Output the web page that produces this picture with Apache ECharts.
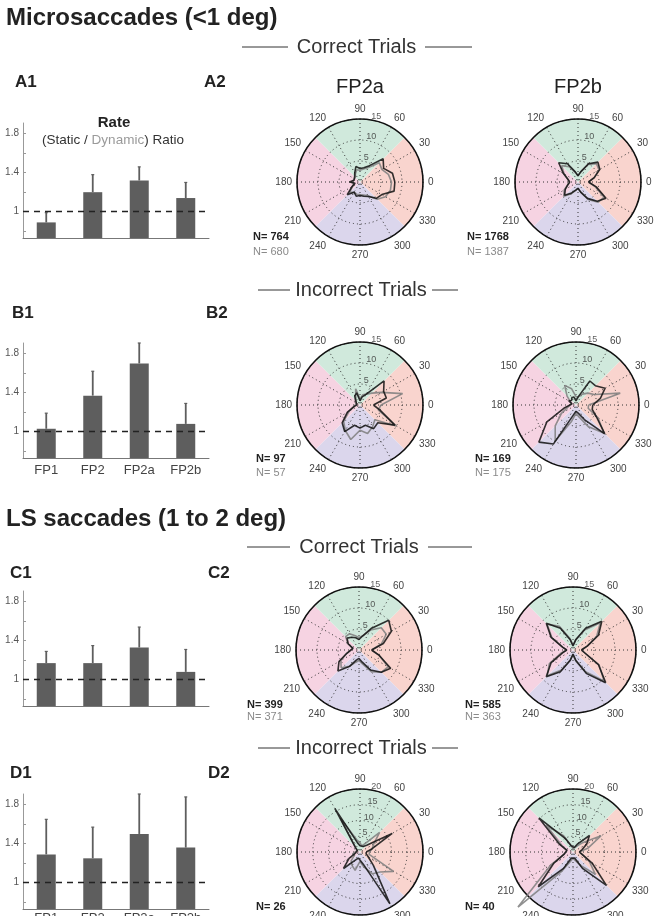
<!DOCTYPE html>
<html lang="en">
<head>
<meta charset="UTF-8">
<title>Microsaccades</title>
<style>
  html, body { margin: 0; padding: 0; background: #fff; }
  #main { width: 658px; height: 916px; }
</style>
</head>
<body>
<div id="main"></div>
<script src="https://cdn.jsdelivr.net/npm/echarts@6/dist/echarts.min.js"></script>
<script>
// bar panels: (static / dynamic) rate ratio, bar top and error bar top
var conditions = ['FP1', 'FP2', 'FP2a', 'FP2b'];
var rateA = [0.89, 1.20, 1.32, 1.14];
var errA  = [0.99, 1.38, 1.46, 1.30];
var rateB = [1.03, 1.37, 1.70, 1.08];
var errB  = [1.19, 1.62, 1.91, 1.29];
var rateC = [1.17, 1.17, 1.33, 1.08];
var errC  = [1.29, 1.35, 1.54, 1.31];
var rateD = [1.29, 1.25, 1.50, 1.36];
var errD  = [1.65, 1.57, 1.91, 1.88];
var yTicks = [0.8, 1, 1.2, 1.4, 1.6, 1.8];
var yLabels = [1, 1.4, 1.8];

// polar panels: saccade counts per direction (deg)
var dirs = [0, 15, 30, 45, 60, 75, 90, 105, 120, 135, 150, 165, 180, 195, 210, 225, 240, 255, 270, 285, 300, 315, 330, 345];
var radialTicks15 = [5, 10, 15];
var radialTicks20 = [5, 10, 15, 20];

var a2aStatic  = [8.3, 8.0, 6.5, 7.8, 4.5, 3.5, 3.2, 3.8, 2.5, 1.8, 2.0, 1.5, 2.5, 1.2, 2.2, 4.3, 2.8, 3.5, 3.2, 3.5, 4.0, 5.5, 6.0, 8.4];
var a2aDynamic = [7.5, 7.0, 6.0, 6.5, 4.0, 3.2, 2.8, 3.0, 2.2, 1.6, 1.8, 1.5, 2.0, 1.5, 2.0, 3.5, 2.8, 3.0, 3.0, 3.2, 3.8, 5.8, 7.0, 7.5];
var a2bStatic  = [2.5, 4.0, 6.0, 6.7, 5.0, 2.5, 1.5, 2.5, 5.0, 6.5, 4.0, 2.5, 2.0, 2.5, 3.5, 4.5, 3.0, 2.0, 1.5, 2.5, 4.5, 6.5, 7.7, 4.5];
var a2bDynamic = [2.5, 4.0, 5.8, 6.2, 4.8, 2.5, 1.5, 2.3, 4.2, 5.5, 3.8, 2.5, 2.0, 2.5, 3.8, 4.8, 3.2, 2.0, 1.5, 2.5, 4.8, 6.8, 7.2, 4.2];
var b2aStatic  = [3.2, 6.5, 6.5, 8.1, 3.0, 2.0, 1.0, 3.0, 2.5, 1.5, 1.0, 0.8, 0.8, 1.5, 3.5, 6.0, 7.3, 5.0, 5.5, 5.0, 6.5, 6.0, 9.6, 5.0];
var b2aDynamic = [5.0, 10.5, 6.0, 4.0, 3.0, 2.5, 1.5, 4.0, 2.0, 1.2, 1.0, 1.0, 1.0, 1.5, 3.0, 5.5, 7.0, 8.5, 6.0, 7.0, 6.0, 5.0, 10.0, 4.5];
var b2bStatic  = [4.0, 6.0, 8.0, 6.5, 6.6, 2.0, 1.0, 2.0, 2.0, 1.5, 2.0, 1.0, 1.0, 3.0, 8.0, 12.5, 10.7, 2.5, 1.5, 2.0, 4.0, 9.7, 5.6, 4.0];
var b2bDynamic = [3.0, 10.9, 5.0, 4.0, 3.0, 2.0, 2.0, 4.0, 5.4, 3.0, 1.5, 1.0, 1.0, 2.0, 4.0, 7.0, 9.9, 4.0, 2.0, 3.0, 6.0, 9.5, 6.0, 3.0];
var c2aStatic  = [3.0, 6.0, 8.9, 10.0, 6.0, 3.5, 2.5, 3.0, 3.5, 4.0, 3.0, 1.5, 1.5, 3.0, 5.5, 7.1, 4.5, 2.5, 2.0, 3.0, 5.5, 7.5, 8.7, 5.0];
var c2aDynamic = [3.0, 5.5, 7.5, 7.5, 5.5, 3.5, 3.0, 3.5, 4.5, 4.5, 3.0, 1.5, 1.5, 3.0, 5.0, 6.0, 4.5, 3.0, 2.5, 3.5, 6.0, 7.5, 8.0, 5.0];
var c2bStatic  = [2.0, 3.5, 7.0, 9.7, 6.0, 2.5, 1.0, 2.5, 6.0, 9.0, 6.0, 2.5, 1.5, 2.5, 6.0, 9.0, 6.0, 2.5, 1.0, 2.5, 6.5, 11.0, 7.0, 3.0];
var c2bDynamic = [2.0, 3.5, 6.5, 9.2, 5.5, 2.5, 1.2, 2.8, 6.5, 8.7, 5.8, 2.5, 1.5, 3.0, 6.5, 8.7, 5.5, 2.5, 1.2, 2.8, 6.0, 10.5, 7.2, 3.0];
var d2aStatic  = [2.0, 4.0, 11.8, 3.0, 2.0, 1.5, 2.0, 3.0, 15.9, 2.0, 1.0, 0.5, 1.0, 1.5, 4.0, 7.4, 3.0, 2.0, 1.5, 4.0, 19.0, 6.0, 3.0, 2.0];
var d2aDynamic = [3.0, 4.0, 5.0, 8.8, 3.0, 2.0, 3.0, 4.0, 12.0, 2.0, 1.0, 1.0, 1.5, 2.5, 2.0, 4.0, 5.0, 6.0, 3.0, 5.0, 8.0, 9.0, 12.3, 3.0];
var d2bStatic  = [2.0, 3.0, 5.0, 7.4, 3.0, 1.5, 1.0, 2.0, 5.0, 15.3, 5.0, 2.0, 1.5, 3.0, 7.0, 15.6, 6.0, 2.0, 1.5, 2.0, 6.0, 15.0, 7.0, 3.0];
var d2bDynamic = [2.0, 5.0, 10.3, 4.0, 2.0, 1.5, 1.0, 2.0, 6.0, 12.0, 4.0, 2.0, 1.5, 3.0, 8.0, 24.7, 7.0, 3.0, 2.0, 2.0, 5.0, 10.0, 6.0, 3.0];

var sectorNames = ['right', 'down', 'left', 'up'];
var sectorColors = ['#f9d4ce', '#dbd6ec', '#f6d3e2', '#d0e9dc'];

var FONT = 'Liberation Sans, Arial, sans-serif';
var BAR = '#5e5e5e';
var R = 63;
var OVER = 1.4;   // the data polar reaches past the drawn rim so long spikes are not cut

var option = {
    animation: false,
    backgroundColor: '#fff',
    textStyle: { fontFamily: FONT },
    grid: [], xAxis: [], yAxis: [],
    polar: [], angleAxis: [], radiusAxis: [],
    series: [], graphic: []
};

function addBars(top, vals, errs, showNames, nameMargin) {
    var i = option.grid.length;
    option.grid.push({ left: 23, top: top, width: 186, height: 115, outerBoundsMode: 'none', containLabel: false });
    option.xAxis.push({
        type: 'category', gridIndex: i, data: conditions,
        axisLine: { lineStyle: { color: '#777', width: 1 } },
        axisTick: { show: false },
        axisLabel: { show: showNames, fontSize: 13, color: '#444', margin: nameMargin || 6 }
    });
    option.yAxis.push({
        type: 'value', gridIndex: i, min: 0.73, max: 1.91,
        splitLine: { show: false },
        axisLine: { show: true, lineStyle: { color: '#999' } },
        axisTick: { show: true, inside: true, length: 3, customValues: yTicks, lineStyle: { color: '#999' } },
        axisLabel: { customValues: yLabels, fontSize: 10, color: '#555', margin: 4 }
    });
    option.series.push({
        type: 'bar', xAxisIndex: i, yAxisIndex: i, data: vals, barWidth: 19,
        itemStyle: { color: BAR },
        markLine: {
            silent: true, symbol: 'none', label: { show: false },
            lineStyle: { type: [6, 5], color: '#222', width: 1.3 },
            data: [{ yAxis: 1 }]
        }
    });
    option.series.push({
        type: 'custom', xAxisIndex: i, yAxisIndex: i,
        data: vals.map(function (v, k) { return [k, v, errs[k]]; }),
        encode: { x: 0, y: [1, 2] },
        renderItem: function (params, api) {
            var p0 = api.coord([api.value(0), api.value(1)]);
            var p1 = api.coord([api.value(0), api.value(2)]);
            return {
                type: 'group', children: [
                    { type: 'line', shape: { x1: p0[0], y1: p0[1], x2: p1[0], y2: p1[1] }, style: { stroke: BAR, lineWidth: 1.8 } },
                    { type: 'line', shape: { x1: p1[0] - 1.5, y1: p1[1], x2: p1[0] + 1.5, y2: p1[1] }, style: { stroke: BAR, lineWidth: 1.2 } }
                ]
            };
        }
    });
}

function loop(vals) {
    var d = dirs.map(function (a, k) { return [vals[k], a]; });
    d.push([vals[0], 360]);
    return d;
}

function addPolar(cx, cy, rmax, ticks, stat, dyn) {
    // visible polar: rim, rings, spokes, angle labels
    var p = option.polar.length;
    option.polar.push({ center: [cx, cy], radius: R });
    option.angleAxis.push({
        polarIndex: p, type: 'value', min: 0, max: 360, interval: 30,
        startAngle: 0, clockwise: false, z: 3,
        axisLine: { lineStyle: { color: '#111', width: 1.6 } },
        axisTick: { show: false },
        axisLabel: { fontSize: 10, color: '#444', margin: 5,
            formatter: function (v) { return v === 360 ? '' : v; } },
        splitLine: { lineStyle: { color: '#333', type: [1, 3], width: 1 } }
    });
    option.radiusAxis.push({
        polarIndex: p, min: 0, max: rmax, interval: 5, z: 3,
        axisLine: { show: false }, axisTick: { show: false }, axisLabel: { show: false },
        splitLine: { lineStyle: { color: '#333', type: [1, 3], width: 1 } }
    });
    // hidden polar with the same scale for the traces
    var q = option.polar.length;
    option.polar.push({ center: [cx, cy], radius: R * OVER });
    option.angleAxis.push({ polarIndex: q, type: 'value', min: 0, max: 360, startAngle: 0, clockwise: false, show: false });
    option.radiusAxis.push({ polarIndex: q, min: 0, max: rmax * OVER, show: false });

    option.series.push({
        type: 'pie', center: [cx, cy], radius: [0, R], startAngle: 45,
        silent: true, z: 0, label: { show: false }, labelLine: { show: false },
        itemStyle: { borderWidth: 0 },
        data: sectorNames.map(function (n, k) { return { name: n, value: 1, itemStyle: { color: sectorColors[k] } }; })
    });
    option.series.push({
        type: 'line', coordinateSystem: 'polar', polarIndex: q, data: loop(dyn),
        symbol: 'none', clip: false, z: 4,
        lineStyle: { color: '#7e7e7e', width: 1.6, opacity: 0.85 }
    });
    option.series.push({
        type: 'line', coordinateSystem: 'polar', polarIndex: q, data: loop(stat),
        symbol: 'none', clip: false, z: 5,
        lineStyle: { color: '#111', width: 1.6, opacity: 0.85 }
    });
    var off = 4.5 * rmax / R;
    option.series.push({
        type: 'scatter', coordinateSystem: 'polar', polarIndex: q, silent: true, z: 6,
        clip: false, symbolSize: 1, itemStyle: { color: 'transparent' },
        data: ticks.map(function (t) { return [t + off, 76]; }),
        label: { show: true, position: 'inside', fontSize: 9, color: '#333',
            formatter: function (o) { return ticks[o.dataIndex]; } }
    });
}

function text(x, y, s, size, weight, fill, align) {
    option.graphic.push({
        type: 'text', x: x, y: y, silent: true,
        style: { text: s, fontSize: size, fontWeight: weight || 'normal', fontFamily: FONT,
            fill: fill || '#222', align: align || 'left', verticalAlign: 'middle' }
    });
}

function rule(x1, x2, y) {
    option.graphic.push({ type: 'line', silent: true,
        shape: { x1: x1, y1: y, x2: x2, y2: y }, style: { stroke: '#333', lineWidth: 1 } });
}

function header(label, y, l1, l2, r1, r2) {
    rule(l1, l2, y);
    text((l2 + r1) / 2, y, label, 20, 'normal', '#333', 'center');
    rule(r1, r2, y);
}

addBars(123, rateA, errA, false);
addBars(343, rateB, errB, true, 6);
addBars(591, rateC, errC, false);
addBars(794, rateD, errD, true, 3);

addPolar(360, 182, 15, radialTicks15, a2aStatic, a2aDynamic);
addPolar(578, 182, 15, radialTicks15, a2bStatic, a2bDynamic);
addPolar(360, 405, 15, radialTicks15, b2aStatic, b2aDynamic);
addPolar(576, 405, 15, radialTicks15, b2bStatic, b2bDynamic);
addPolar(359, 650, 15, radialTicks15, c2aStatic, c2aDynamic);
addPolar(573, 650, 15, radialTicks15, c2bStatic, c2bDynamic);
addPolar(360, 852, 20, radialTicks20, d2aStatic, d2aDynamic);
addPolar(573, 852, 20, radialTicks20, d2bStatic, d2bDynamic);

// headings
text(6, 18, 'Microsaccades (<1 deg)', 24, 'bold', '#222');
text(6, 519, 'LS saccades (1 to 2 deg)', 24, 'bold', '#222');
header('Correct Trials', 47, 242, 288, 425, 472);
header('Incorrect Trials', 290, 258, 290, 432, 458);
header('Correct Trials', 547, 247, 290, 428, 472);
header('Incorrect Trials', 748, 258, 290, 432, 458);

text(15, 82, 'A1', 17, 'bold'); text(204, 82, 'A2', 17, 'bold');
text(12, 313, 'B1', 17, 'bold'); text(206, 313, 'B2', 17, 'bold');
text(10, 573, 'C1', 17, 'bold'); text(208, 573, 'C2', 17, 'bold');
text(10, 773, 'D1', 17, 'bold'); text(208, 773, 'D2', 17, 'bold');
text(360, 87, 'FP2a', 20, 'normal', '#222', 'center');
text(578, 87, 'FP2b', 20, 'normal', '#222', 'center');

// rate title
text(114, 123, 'Rate', 15, 'bold', '#222', 'center');
option.graphic.push({
    type: 'text', x: 113, y: 140, silent: true,
    style: { text: '(Static / {g|Dynamic}) Ratio', fontSize: 13.5, fontFamily: FONT, fill: '#333',
        align: 'center', verticalAlign: 'middle',
        rich: { g: { fill: '#9a9a9a', fontSize: 13.5, fontFamily: FONT } } }
});

// sample sizes (static in black, dynamic in gray)
text(253, 237, 'N= 764', 11, 'bold'); text(253, 252, 'N= 680', 11, 'normal', '#8a8a8a');
text(467, 237, 'N= 1768', 11, 'bold'); text(467, 252, 'N= 1387', 11, 'normal', '#8a8a8a');
text(256, 459, 'N= 97', 11, 'bold'); text(256, 473, 'N= 57', 11, 'normal', '#8a8a8a');
text(475, 459, 'N= 169', 11, 'bold'); text(475, 473, 'N= 175', 11, 'normal', '#8a8a8a');
text(247, 705, 'N= 399', 11, 'bold'); text(247, 717, 'N= 371', 11, 'normal', '#8a8a8a');
text(465, 705, 'N= 585', 11, 'bold'); text(465, 717, 'N= 363', 11, 'normal', '#8a8a8a');
text(256, 907, 'N= 26', 11, 'bold');
text(465, 907, 'N= 40', 11, 'bold');

var chart = echarts.init(document.getElementById('main'));
chart.setOption(option);
</script>
</body>
</html>
